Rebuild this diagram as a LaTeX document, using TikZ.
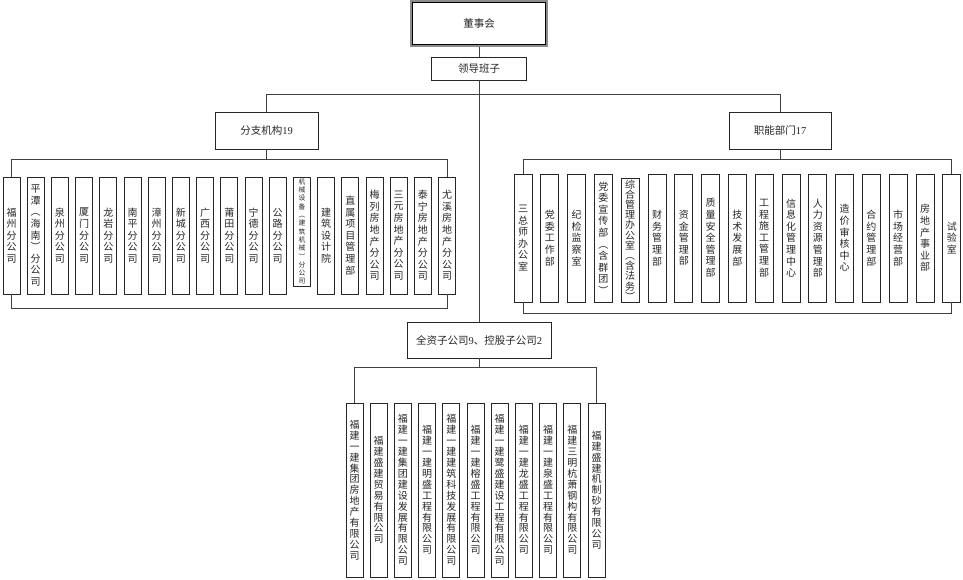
\documentclass[tikz,border=0pt]{standalone}
\usepackage{fontspec}
\setmainfont{Liberation Serif}
\newfontfamily\cjk{Noto Sans CJK SC}
\ExplSyntaxOn
\NewDocumentCommand\vt{m}{\seq_set_split:Nnn \l_tmpa_seq {} {#1}\seq_use:Nn \l_tmpa_seq {\\}}
\ExplSyntaxOff
\tikzset{
  box/.style={draw=black!85, line width=0.8pt, fill=white, inner sep=0pt, text=black!85},
  hbox/.style={box, font=\cjk\fontsize{10.5}{12}\selectfont},
  vbox/.style={box, minimum width=17, align=center, font=\cjk\fontsize{10}{11.6}\selectfont},
  conn/.style={draw=black!75, line width=0.7pt},
}
\begin{document}
\begin{tikzpicture}[x=1pt,y=-1pt]
\useasboundingbox (0,0) rectangle (963,579);
% top
\node[hbox, draw=black!45, line width=1.8pt, minimum width=136, minimum height=45] (top) at (479,23.5) {董事会};
\draw[black, line width=0.7pt] ([shift={(2.2,2.2)}]top.north west) rectangle ([shift={(-2.2,-2.2)}]top.south east);
\node[hbox, minimum width=95, minimum height=23] (lead) at (479,68.5) {领导班子};
\node[hbox, minimum width=103, minimum height=37] (fz) at (266.5,130.5) {分支机构{\rmfamily 19}};
\node[hbox, minimum width=102, minimum height=37] (zn) at (780,130.5) {职能部门{\rmfamily 17}};
\node[hbox, minimum width=144, minimum height=36] (qz) at (479,340) {全资子公司{\rmfamily 9}、控股子公司{\rmfamily 2}};
\coordinate (hy) at (479,94);
\coordinate (lb) at (0,159);
\coordinate (lb2) at (0,308);
\coordinate (rb) at (0,159);
\coordinate (rb2) at (0,313);
\coordinate (bb) at (0,367);
% left branch boxes
\foreach \i/\t in {0/福州分公司,1/平潭︵海南︶分公司,2/泉州分公司,3/厦门分公司,4/龙岩分公司,5/南平分公司,6/漳州分公司,7/新城分公司,8/广西分公司,9/莆田分公司,10/宁德分公司,11/公路分公司,13/建筑设计院,14/直属项目管理部,15/梅列房地产分公司,16/三元房地产分公司,17/泰宁房地产分公司,18/尤溪房地产分公司}
  \node[vbox, minimum height=117] (L\i) at ({11.5+24.2*\i},235.5) {\expandafter\vt\expandafter{\t}};
\node[vbox, minimum height=109, font=\cjk\fontsize{6.8}{8.3}\selectfont] (L12) at ({11.5+24.2*12},231.5) {\vt{机械设备︵建筑机械︶分公司}};
% right branch boxes
\foreach \i/\t in {0/三总师办公室,1/党委工作部,2/纪检监察室,3/党委宣传部︵含群团︶,5/财务管理部,6/资金管理部,7/质量安全管理部,8/技术发展部,9/工程施工管理部,10/信息化管理中心,11/人力资源管理部,12/造价审核中心,13/合约管理部,14/市场经营部,15/房地产事业部,16/试验室}
  \node[vbox, minimum width=18, minimum height=128] (R\i) at ({523+26.8*\i},238) {\expandafter\vt\expandafter{\t}};
\node[vbox, minimum width=18, minimum height=124, font=\cjk\fontsize{10}{10.2}\selectfont] (R4) at ({523+26.8*4},240) {\vt{综合管理办公室︵含法务︶}};
% bottom boxes
\foreach \i/\t in {0/福建一建集团房地产有限公司,1/福建盛建贸易有限公司,2/福建一建集团建设发展有限公司,3/福建一建明盛工程有限公司,4/福建一建建筑科技发展有限公司,5/福建一建榕盛工程有限公司,6/福建一建鹭盛建设工程有限公司,7/福建一建龙盛工程有限公司,8/福建一建泉盛工程有限公司,9/福建三明杭萧钢构有限公司,10/福建盛建机制砂有限公司}
  \node[vbox, minimum height=174, font=\cjk\fontsize{10}{10.9}\selectfont] (B\i) at ({354.5+24.2*\i},490) {\expandafter\vt\expandafter{\t}};
% connectors
\draw[conn] (top.south) -- (lead.north);
\draw[conn] (lead.south) -- (qz.north);
\draw[conn] (fz.north) -- (fz.north |- hy) -- (zn.north |- hy) -- (zn.north);
\draw[conn] (L0.north) -- (L0.north |- lb) -- (L18.north |- lb) -- (L18.north);
\draw[conn] (fz.south) -- (fz.south |- lb);
\draw[conn] (L0.south) -- (L0.south |- lb2) -- (L18.south |- lb2) -- (L18.south);
\draw[conn] (R0.north) -- (R0.north |- rb) -- (R16.north |- rb) -- (R16.north);
\draw[conn] (zn.south) -- (zn.south |- rb);
\draw[conn] (R0.south) -- (R0.south |- rb2) -- (R16.south |- rb2) -- (R16.south);
\draw[conn] (B0.north) -- (B0.north |- bb) -- (B10.north |- bb) -- (B10.north);
\draw[conn] (qz.south) -- (qz.south |- bb);
\end{tikzpicture}
\end{document}
